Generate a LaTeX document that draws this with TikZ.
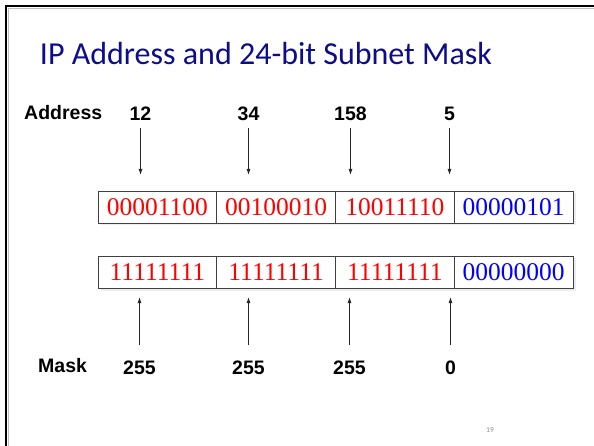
\documentclass[tikz,border=0pt]{standalone}
\usepackage{fontspec}
\setmainfont{Liberation Serif}
\newfontfamily\titlefont{Carlito}
\newfontfamily\labelfont{Liberation Sans}
\usetikzlibrary{arrows.meta}
\definecolor{titleblue}{RGB}{12,12,140}
\definecolor{cellred}{RGB}{255,0,0}
\definecolor{cellblue}{RGB}{0,0,255}
\tikzset{
  cell/.style={draw=black!75, line width=0.8pt, minimum width=118.75pt, minimum height=32pt,
    inner sep=0pt, font=\fontsize{25.5}{25.5}\selectfont},
  lbl/.style={inner sep=0pt, anchor=base, font=\labelfont\bfseries\fontsize{19.5}{20}\selectfont},
  arr/.style={line width=0.9pt, black!85, -{Latex[length=6pt,width=4pt]}},
  shade/.style={fill=black!7, draw=none}
}
\begin{document}
\begin{tikzpicture}[x=1pt,y=1pt]
\useasboundingbox (0,-446) rectangle (594,0);
\fill[white] (0,-446) rectangle (594,0);
% slide frame
\draw[black!25, line width=0.8pt] (8.3,-446) -- (8.3,-8.3) -- (594,-8.3);
\draw[black, line width=2.6pt] (6,-446) -- (6,-6) -- (594,-6);
% title
\node[inner sep=0pt, anchor=base, text=titleblue, font=\titlefont\fontsize{32}{32}\selectfont] (title) at (266,-65) {IP Address and 24-bit Subnet Mask};
% address labels
\node[lbl, anchor=base west] (addr) at (24,-120) {Address};
\node[lbl] (n1) at (140.5,-121) {12};
\node[lbl] (n2) at (248.5,-121) {34};
\node[lbl] (n3) at (350.5,-121) {158};
\node[lbl] (n4) at (449.5,-121) {5};
% shadows
\fill[shade] (100.5,-193.5) rectangle (575.5,-225.5);
\fill[shade] (100.5,-258.5) rectangle (575.5,-290.5);
% address cells
\node[cell, fill=white, text=cellred] (a1) at (157.375,-207) {00001100};
\node[cell, fill=white, text=cellred] (a2) at (276.125,-207) {00100010};
\node[cell, fill=white, text=cellred] (a3) at (394.875,-207) {10011110};
\node[cell, fill=white, text=cellblue] (a4) at (513.625,-207) {00000101};
% mask cells
\node[cell, fill=white, text=cellred] (m1) at (157.375,-272) {11111111};
\node[cell, fill=white, text=cellred] (m2) at (276.125,-272) {11111111};
\node[cell, fill=white, text=cellred] (m3) at (394.875,-272) {11111111};
\node[cell, fill=white, text=cellblue] (m4) at (513.625,-272) {00000000};
% mask labels
\node[lbl, anchor=base west] (mask) at (38,-372) {Mask};
\node[lbl] (k1) at (139.5,-374) {255};
\node[lbl] (k2) at (248.5,-374) {255};
\node[lbl] (k3) at (349.5,-374) {255};
\node[lbl] (k4) at (450.5,-374) {0};
% arrow ends
\coordinate (d1) at (140.5,-175);
\coordinate (d2) at (248.5,-175);
\coordinate (d3) at (350.5,-175);
\coordinate (d4) at (449.5,-175);
\coordinate (u1) at (139.5,-297);
\coordinate (u2) at (248.5,-297);
\coordinate (u3) at (349.5,-297);
\coordinate (u4) at (450.5,-297);
\foreach \i in {1,2,3,4} {
  \draw[arr] ([yshift=-7pt]n\i.south) -- (d\i);
  \draw[arr] ([yshift=15pt]k\i.north) -- (u\i);
}
% page number
\node[inner sep=0pt, anchor=base, text=black!45, font=\titlefont\fontsize{7.5}{8}\selectfont] (pg) at (490,-432) {19};
\end{tikzpicture}
\end{document}
